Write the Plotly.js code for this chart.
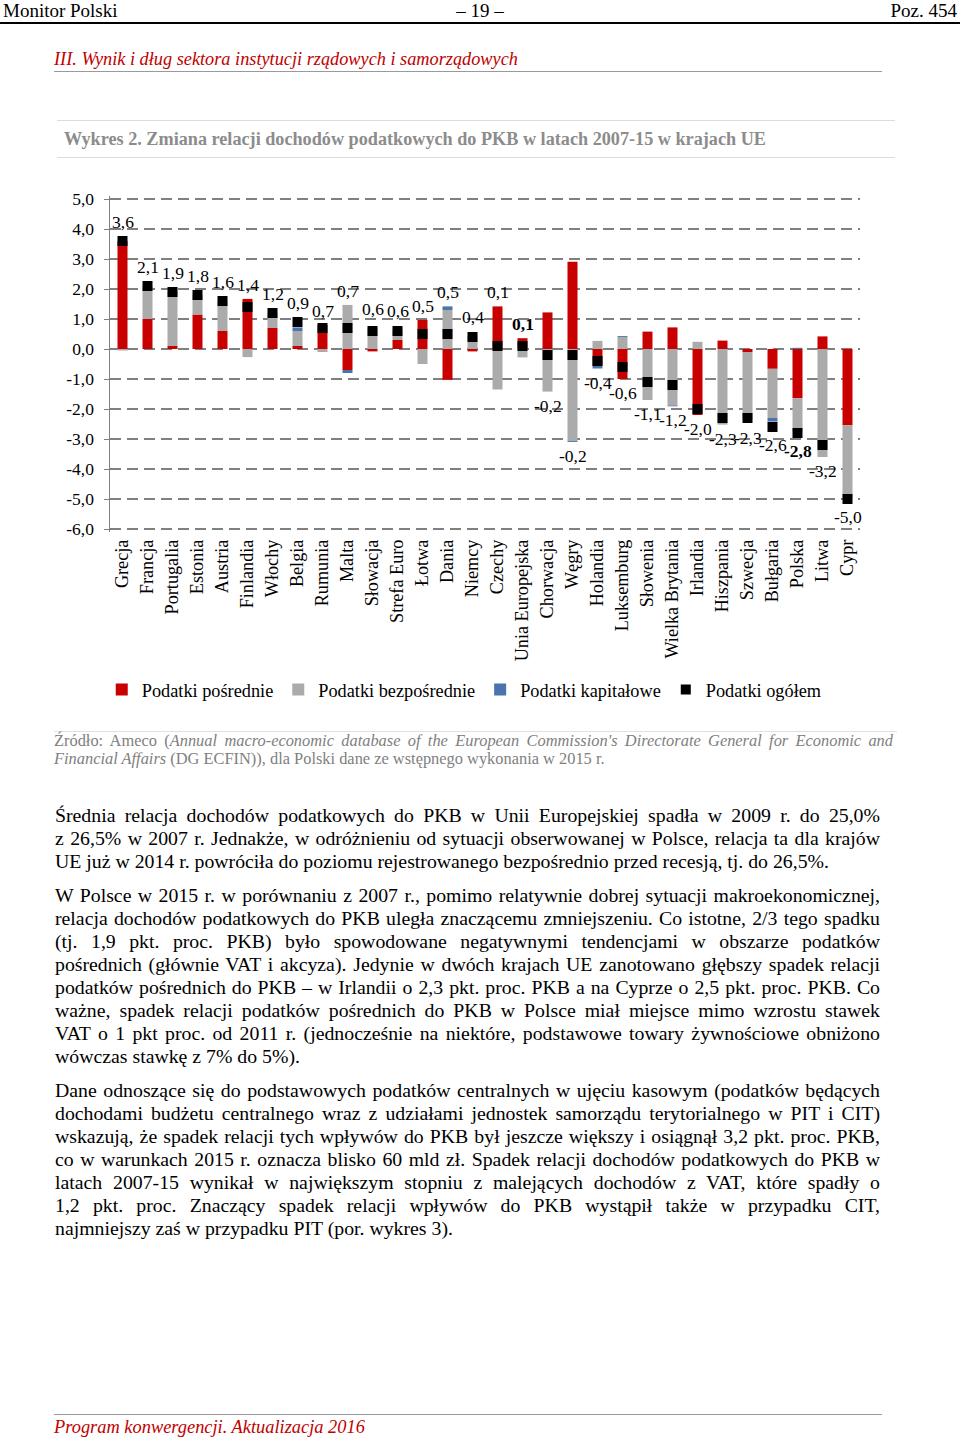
<!DOCTYPE html>
<html lang="pl">
<head>
<meta charset="utf-8">
<script src="https://cdn.plot.ly/plotly-3.0.1.min.js"></script>
<style>
  html, body { margin:0; padding:0; background:#fff; }
  body { width:960px; height:1440px; position:relative; font-family:"Liberation Serif","Times New Roman",serif; color:#000; overflow:hidden; }
  .abs { position:absolute; white-space:nowrap; }
  .rule { position:absolute; }
  .para { position:absolute; left:55px; width:825px; font-size:19.8px; line-height:23px; }
  .para div { text-align:justify; text-align-last:justify; white-space:normal; }
  .para div.last { text-align:left; text-align-last:left; }
  .src { position:absolute; left:54px; width:839px; top:732px; font-size:16.4px; line-height:18px; color:#808080; }
  .src div { text-align:justify; text-align-last:justify; }
  .src div.last { text-align-last:left; }
  #chart { position:absolute; left:0; top:180px; width:960px; height:540px; }
</style>
</head>
<body>
<div class="abs" style="left:3px;top:0px;font-size:19px;line-height:21px;">Monitor Polski</div>
<div class="abs" style="left:0;width:960px;text-align:center;top:0px;font-size:19px;line-height:21px;">– 19 –</div>
<div class="abs" style="right:3px;top:0px;font-size:19px;line-height:21px;">Poz. 454</div>
<div class="rule" style="left:0;top:22px;width:960px;height:2px;background:#000;"></div>

<div class="abs" style="left:54px;top:49px;font-size:18.3px;line-height:21px;font-style:italic;color:#c00000;">III. Wynik i dług sektora instytucji rządowych i samorządowych</div>
<div class="rule" style="left:54px;top:71px;width:828px;height:1px;background:#9a9a9a;"></div>

<div class="rule" style="left:57px;top:120px;width:838px;height:1px;background:#dcdcdc;"></div>
<div class="abs" style="left:64px;top:129px;font-size:18.2px;line-height:21px;font-weight:bold;color:#8c8c8c;">Wykres 2. Zmiana relacji dochodów podatkowych do PKB w latach 2007-15 w krajach UE</div>
<div class="rule" style="left:57px;top:157px;width:838px;height:1px;background:#dcdcdc;"></div>

<div id="chart"></div>

<div class="rule" style="left:54px;top:731px;width:843px;height:1px;background:#e0e0e0;"></div>
<div class="src">
  <div>Źródło: Ameco (<i>Annual macro-economic database of the European Commission's Directorate General for Economic and</i></div>
  <div class="last"><i>Financial Affairs</i> (DG ECFIN)), dla Polski dane ze wstępnego wykonania w 2015 r.</div>
</div>

<div class="para" style="top:804px;">
  <div>Średnia relacja dochodów podatkowych do PKB w Unii Europejskiej spadła w 2009 r. do 25,0%</div>
  <div>z 26,5% w 2007 r. Jednakże, w odróżnieniu od sytuacji obserwowanej w Polsce, relacja ta dla krajów</div>
  <div class="last">UE już w 2014 r. powróciła do poziomu rejestrowanego bezpośrednio przed recesją, tj. do 26,5%.</div>
</div>

<div class="para" style="top:884px;">
  <div>W Polsce w 2015 r. w porównaniu z 2007 r., pomimo relatywnie dobrej sytuacji makroekonomicznej,</div>
  <div>relacja dochodów podatkowych do PKB uległa znaczącemu zmniejszeniu. Co istotne, 2/3 tego spadku</div>
  <div>(tj. 1,9 pkt. proc. PKB) było spowodowane negatywnymi tendencjami w obszarze podatków</div>
  <div>pośrednich (głównie VAT i akcyza). Jedynie w dwóch krajach UE zanotowano głębszy spadek relacji</div>
  <div>podatków pośrednich do PKB – w Irlandii o 2,3 pkt. proc. PKB a na Cyprze o 2,5 pkt. proc. PKB. Co</div>
  <div>ważne, spadek relacji podatków pośrednich do PKB w Polsce miał miejsce mimo wzrostu stawek</div>
  <div>VAT o 1 pkt proc. od 2011 r. (jednocześnie na niektóre, podstawowe towary żywnościowe obniżono</div>
  <div class="last">wówczas stawkę z 7% do 5%).</div>
</div>

<div class="para" style="top:1079px;">
  <div>Dane odnoszące się do podstawowych podatków centralnych w ujęciu kasowym (podatków będących</div>
  <div>dochodami budżetu centralnego wraz z udziałami jednostek samorządu terytorialnego w PIT i CIT)</div>
  <div>wskazują, że spadek relacji tych wpływów do PKB był jeszcze większy i osiągnął 3,2 pkt. proc. PKB,</div>
  <div>co w warunkach 2015 r. oznacza blisko 60 mld zł. Spadek relacji dochodów podatkowych do PKB w</div>
  <div>latach 2007-15 wynikał w największym stopniu z malejących dochodów z VAT, które spadły o</div>
  <div>1,2 pkt. proc. Znaczący spadek relacji wpływów do PKB wystąpił także w przypadku CIT,</div>
  <div class="last">najmniejszy zaś w przypadku PIT (por. wykres 3).</div>
</div>

<div class="rule" style="left:54px;top:1414px;width:828px;height:1px;background:#9a9a9a;"></div>
<div class="abs" style="left:54px;top:1417px;font-size:18.4px;line-height:20px;font-style:italic;color:#c00000;">Program konwergencji. Aktualizacja 2016</div>

<script>
// ---- data ----
const categories = ["Grecja","Francja","Portugalia","Estonia","Austria","Finlandia","Włochy","Belgia","Rumunia","Malta","Słowacja","Strefa Euro","Łotwa","Dania","Niemcy","Czechy","Unia Europejska","Chorwacja","Węgry","Holandia","Luksemburg","Słowenia","Wielka Brytania","Irlandia","Hiszpania","Szwecja","Bułgaria","Polska","Litwa","Cypr"];
const indirectTax = [3.6, 1.0, 0.1, 1.15, 0.6, 1.67, 0.7, 0.1, 0.8, -0.7, -0.08, 0.3, 0.97, -1.03, -0.08, 1.42, 0.36, 1.22, 2.91, -0.55, -1.0, 0.58, 0.72, -2.2, 0.28, -0.1, -0.66, -1.64, 0.42, -2.54];
const directTax = [-0.05, 1.1, 1.8, 0.65, 1.0, -0.27, 0.5, 0.5, -0.1, 1.47, 0.7, 0.35, -0.5, 1.3, 0.45, -1.35, -0.28, -1.42, -3.07, 0.27, 0.4, -1.7, -1.88, 0.24, -2.52, -2.25, -1.64, -1.1, -3.6, -2.46];
const capitalTax = [0, 0, 0, 0, 0, 0, 0, 0.12, 0, -0.1, 0, 0, 0, 0.12, 0, 0, 0, 0, -0.03, -0.1, 0.03, 0, -0.03, 0, 0, 0, -0.12, 0.04, 0, 0];
const totalTax = [3.6, 2.1, 1.9, 1.8, 1.6, 1.4, 1.2, 0.9, 0.7, 0.7, 0.6, 0.6, 0.5, 0.5, 0.4, 0.1, 0.1, -0.2, -0.2, -0.4, -0.6, -1.1, -1.2, -2.0, -2.3, -2.3, -2.6, -2.8, -3.2, -5.0];
const boldLabels = ["Unia Europejska", "Polska"];
const yTickVals = [5, 4, 3, 2, 1, 0, -1, -2, -3, -4, -5, -6];
const yTickText = ["5,0","4,0","3,0","2,0","1,0","0,0","-1,0","-2,0","-3,0","-4,0","-5,0","-6,0"];
const seriesNames = ["Podatki pośrednie","Podatki bezpośrednie","Podatki kapitałowe","Podatki ogółem"];

const FONT = "Liberation Serif, Times New Roman, serif";
const RED = "#c80000", GRAY = "#ababab", BLUE = "#4a74ad", BLACK = "#000000";

const barTrace = (name, vals, color) => ({
  type: "bar", name: name, x: categories, y: vals,
  marker: { color: color, line: { width: 0 } }, hoverinfo: "skip"
});

const traces = [
  barTrace(seriesNames[0], indirectTax, RED),
  barTrace(seriesNames[1], directTax, GRAY),
  barTrace(seriesNames[2], capitalTax, BLUE),
  { type: "scatter", mode: "markers", name: seriesNames[3], x: categories, y: totalTax,
    marker: { symbol: "square", size: 10, color: BLACK, line: { width: 0 } },
    cliponaxis: false, hoverinfo: "skip" }
];

// value labels placed just beyond the end of each stack
const fmt = v => v.toFixed(1).replace(".", ",");
const annotations = categories.map((c, i) => {
  const parts = [indirectTax[i], directTax[i], capitalTax[i]];
  const pos = parts.filter(v => v > 0).reduce((a, b) => a + b, 0);
  const neg = parts.filter(v => v < 0).reduce((a, b) => a + b, 0);
  const t = totalTax[i];
  const bold = boldLabels.includes(c);
  const txt = bold ? "<b>" + fmt(t) + "</b>" : fmt(t);
  if (t >= 0) {
    const top = Math.max(pos, t);
    const markerTop = t >= pos - 0.1;
    return { x: c, y: top, xref: "x", yref: "y", text: txt, showarrow: false,
      yanchor: "bottom", yshift: markerTop ? 7 : 2,
      font: { family: FONT, size: 17.5, color: "#000" } };
  } else {
    const bot = Math.min(neg, t);
    const markerBot = t <= neg + 0.1;
    return { x: c, y: bot, xref: "x", yref: "y", text: txt, showarrow: false,
      yanchor: "top", yshift: markerBot ? -6 : -2,
      font: { family: FONT, size: 17.5, color: "#000" } };
  }
});

const Y0 = -6.1, Y1 = 5.1;
const layout = {
  width: 960, height: 540,
  margin: { l: 110, r: 100, t: 16.3, b: 185 },
  paper_bgcolor: "rgba(0,0,0,0)", plot_bgcolor: "rgba(0,0,0,0)",
  barmode: "relative", bargap: 0.6,
  font: { family: FONT, size: 17.5, color: "#000" },
  showlegend: true,
  legend: { orientation: "h", x: -0.011, xanchor: "left", y: -0.469, yanchor: "middle",
    font: { family: FONT, size: 18.3, color: "#000" }, traceorder: "normal", itemclick: false },
  xaxis: {
    type: "category", categoryorder: "array", categoryarray: categories,
    tickangle: -90, ticks: "", showline: false, showgrid: false, zeroline: false,
    tickfont: { family: FONT, size: 18.2, color: "#000" }, ticklabelstandoff: 3,
    range: [-0.5, categories.length - 0.5]
  },
  xaxis2: {
    overlaying: "x", anchor: "free", position: (0 - Y0) / (Y1 - Y0), side: "bottom",
    type: "linear", range: [-0.5, categories.length - 0.5],
    tick0: -0.5, dtick: 1, ticks: "outside", ticklen: 5, tickwidth: 1.3, tickcolor: "#808080",
    showticklabels: false, showline: true, linecolor: "#808080", linewidth: 1.5,
    showgrid: false, zeroline: false, layer: "below traces"
  },
  yaxis: {
    range: [Y0, Y1], tickvals: yTickVals, ticktext: yTickText,
    showgrid: true, gridcolor: "#808080", gridwidth: 1.5, griddash: "11px,6px",
    zeroline: false, showline: true, linecolor: "#808080", linewidth: 1.5,
    ticks: "outside", ticklen: 5, tickcolor: "#808080", ticklabelstandoff: 6,
    tickfont: { family: FONT, size: 17.5, color: "#000" }, layer: "below traces"
  },
  annotations: annotations
};

Plotly.newPlot("chart", traces, layout, { staticPlot: true, displayModeBar: false });
</script>
</body>
</html>
